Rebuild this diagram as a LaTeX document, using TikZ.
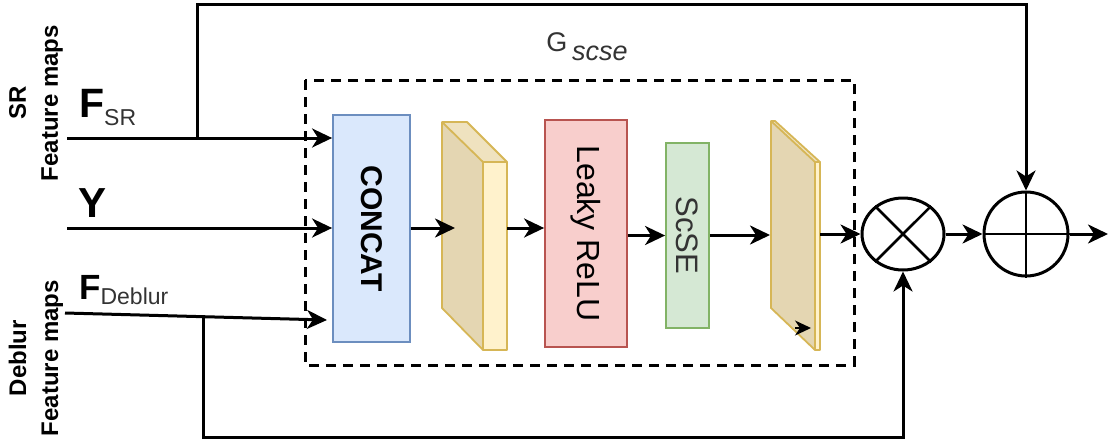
\documentclass[tikz,border=0pt]{standalone}
\usepackage{fontspec}
\setmainfont{Liberation Sans}
\usetikzlibrary{arrows.meta,shapes.geometric}
\definecolor{cfill}{HTML}{DAE8FC}
\definecolor{cdraw}{HTML}{6C8EBF}
\definecolor{rfill}{HTML}{F8CECC}
\definecolor{rdraw}{HTML}{B85450}
\definecolor{gfill}{HTML}{D5E8D4}
\definecolor{gdraw}{HTML}{82B366}
\definecolor{ydraw}{HTML}{D6B656}
\definecolor{yfront}{HTML}{FFF2CC}
\definecolor{ydark}{HTML}{E4D6B2}
\definecolor{ytop}{HTML}{EFE2BF}
\definecolor{txtgray}{HTML}{333333}
\begin{document}
\begin{tikzpicture}[x=1pt,y=-1pt,
  conn/.style={line width=3pt,-{Stealth[length=20pt,width=19pt,inset=6pt]}},
  smallconn/.style={line width=2pt,-{Stealth[length=16pt,width=15pt,inset=5pt]}},
  box/.style={draw,line width=1.8pt,inner sep=0pt},
  cube/.style={draw=ydraw,line width=1.8pt,line join=round},
  vlab/.style={rotate=90,align=center,inner sep=0pt,font=\fontsize{24}{32}\selectfont\bfseries},
  boxtxt/.style={rotate=-90,inner sep=0pt},
  op/.style={draw,line width=3pt,inner sep=0pt}]
\useasboundingbox (0,0) rectangle (1110,444);

% dashed group
\draw[line width=3pt,dash pattern=on 10pt off 7pt] (305,80) rectangle (854,365);
\node[inner sep=0pt,text=txtgray,font=\fontsize{27}{27}\selectfont] (glab) at (587,47) {G\,\raisebox{-9pt}{\itshape scse}};

% blocks
\node[box,draw=cdraw,fill=cfill,minimum width=77pt,minimum height=227pt] (concat) at (371.5,228.5) {};
\node[boxtxt,font=\fontsize{30}{30}\selectfont\bfseries] at (concat.center) {CONCAT};
\node[box,draw=rdraw,fill=rfill,minimum width=82pt,minimum height=227pt] (relu) at (586,233.5) {};
\node[boxtxt,font=\fontsize{32}{32}\selectfont] at (relu.center) {Leaky ReLU};
\node[box,draw=gdraw,fill=gfill,minimum width=43pt,minimum height=185pt] (scse) at (687.5,235.5) {};
\node[boxtxt,text=txtgray,font=\fontsize{31}{31}\selectfont] at (scse.center) {ScSE};

% cuboid 1
\fill[ydark] (442,122) -- (483,162) -- (483,350) -- (442,308) -- cycle;
\fill[ytop] (442,122) -- (467,122) -- (507,162) -- (483,162) -- cycle;
\fill[yfront] (483,162) -- (507,162) -- (507,350) -- (483,350) -- cycle;
\draw[cube] (442,122) -- (467,122) -- (507,162) -- (507,350) -- (483,350) -- (442,308) -- cycle;
\draw[cube] (442,122) -- (483,162) -- (507,162);
\draw[cube] (483,162) -- (483,350);
\coordinate (c1in) at (455,228);
\coordinate (c1out) at (507,228);

% cuboid 2
\fill[ydark] (771,121) -- (815,162) -- (815,350) -- (771,308) -- cycle;
\fill[ytop] (771,121) -- (775,121) -- (820,162) -- (815,162) -- cycle;
\fill[yfront] (815,162) -- (820,162) -- (820,350) -- (815,350) -- cycle;
\draw[cube] (771,121) -- (775,121) -- (820,162) -- (820,350) -- (815,350) -- (771,308) -- cycle;
\draw[cube] (771,121) -- (815,162) -- (820,162);
\draw[cube] (815,162) -- (815,350);
\coordinate (c2in) at (770,235);
\coordinate (c2out) at (820,234);
\coordinate (sa) at (795,328);
\coordinate (sb) at (811,328);
\draw[smallconn] (sa) -- (sb);

% operators
\node[op,ellipse,minimum width=82pt,minimum height=72pt] (mul) at (903,234) {};
\draw[line width=2.5pt] (mul.45) -- (mul.225) (mul.135) -- (mul.315);
\node[op,circle,minimum size=84pt] (add) at (1026,234) {};
\draw[line width=2.5pt] (add.north) -- (add.south) (add.west) -- (add.east);

% inputs
\coordinate (srs) at (67,138);
\coordinate (srsplit) at (197,138);
\coordinate (ys) at (67,228);
\coordinate (dbs) at (65,313);
\coordinate (dbe) at (327,320);
\coordinate (dbsplit) at (203,316.7);
\coordinate (topc) at (1026,5);
\coordinate (botc) at (903,437);
\coordinate (outc) at (1108,234);

\draw[conn] (srs) -- (concat.west |- srs);
\draw[conn] (ys) -- (concat.west |- ys);
\draw[conn] (dbs) -- (dbe);
\draw[conn] (concat.east |- c1in) -- (c1in);
\draw[conn] (c1out) -- (relu.west |- c1out);
\draw[conn] (relu.east |- scse) -- (scse.west);
\draw[conn] (scse.east |- c2in) -- (c2in);
\draw[conn] (c2out) -- (mul.west);
\draw[conn] (mul.east) -- (add.west);
\draw[conn] (add.east) -- (outc);
\draw[conn] (srsplit) |- (topc) -- (add.north);
\draw[conn] (dbsplit) |- (botc) -- (mul.south);

% input labels
\node[vlab] (srlab) at (36,103) {SR\\Feature maps};
\node[vlab] (dblab) at (36,358) {Deblur\\Feature maps};
\node[anchor=base west,inner sep=0pt] (fsr) at (79,117) {{\fontsize{41}{41}\selectfont\bfseries F}{\fontsize{23}{23}\selectfont\color{txtgray}\raisebox{-8pt}{SR}}};
\node[anchor=base west,inner sep=0pt,font=\fontsize{42}{42}\selectfont\bfseries] (ylab) at (78,217) {Y};
\node[anchor=base west,inner sep=0pt] (fdb) at (79,299) {{\fontsize{35}{35}\selectfont\bfseries F}{\fontsize{23}{23}\selectfont\color{txtgray}\raisebox{-5pt}{Deblur}}};
\end{tikzpicture}
\end{document}
